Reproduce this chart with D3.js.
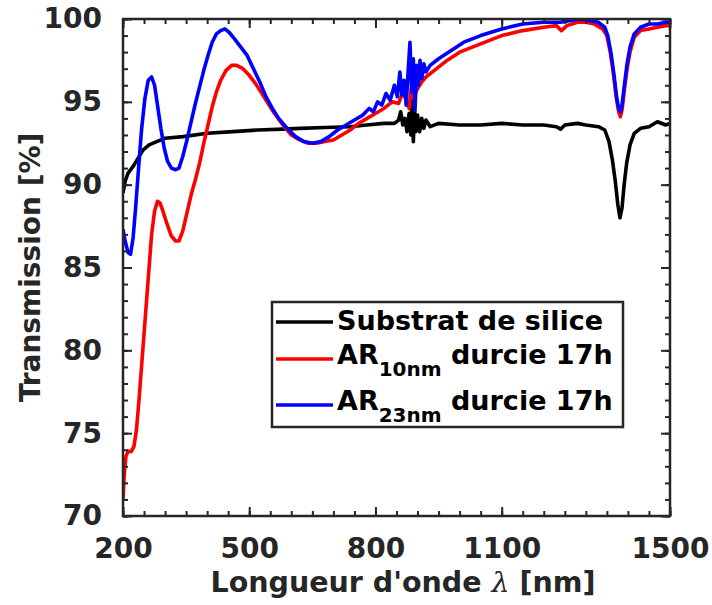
<!DOCTYPE html>
<html><head><meta charset="utf-8">
<script src="https://cdn.jsdelivr.net/npm/d3@7"></script>
<style>
html,body{margin:0;padding:0;background:#fff;}
svg text{font-family:"DejaVu Sans",sans-serif;font-weight:bold;}
</style></head>
<body><svg id="c" width="712" height="605"></svg>
<script>
// ---- data ----
const xTicks = [200, 500, 800, 1100, 1500];
const yTicks = [70, 75, 80, 85, 90, 95, 100];
const seriesNames = ["Substrat de silice", "AR10nm durcie 17h", "AR23nm durcie 17h"];
const seriesColors = ["#000000", "#ff0000", "#0000ff"];

const substratX = [200,205,212,224,236,248,262,280,300,343,400,461,520,580,621,680,740,779,820,845,855,860,865,870,875,880,884,887,890,893,896,900,905,910,915,920,930,950,1000,1050,1100,1150,1200,1230,1240,1250,1280,1300,1330,1345,1355,1363,1370,1376,1381,1386,1391,1397,1405,1415,1430,1450,1470,1490,1500];
const substratY = [89.5,90.2,90.7,91.1,91.6,92.1,92.4,92.6,92.8,92.9,93.1,93.2,93.3,93.35,93.4,93.45,93.5,93.6,93.7,93.7,93.9,94.4,93.6,94.0,93.2,94.3,93.0,95.4,92.6,94.5,93.2,94.2,93.2,94.0,93.4,93.9,93.5,93.7,93.6,93.6,93.7,93.6,93.6,93.5,93.35,93.6,93.7,93.6,93.5,93.3,92.6,91.5,90.2,88.8,88.0,88.6,90.0,91.3,92.4,93.1,93.4,93.5,93.8,93.6,93.7];

const ar10X = [200,203,207,212,220,226,232,238,244,250,256,262,268,275,282,288,295,305,315,325,333,342,352,362,372,382,392,402,412,422,432,445,458,470,485,500,515,530,545,560,580,600,620,640,660,680,700,720,740,760,780,800,820,840,855,865,875,880,885,890,900,910,920,940,970,1000,1050,1100,1150,1200,1230,1242,1255,1280,1300,1320,1340,1350,1358,1365,1372,1378,1382,1386,1392,1398,1405,1415,1430,1450,1470,1490,1500];
const ar10Y = [71.0,72.5,73.6,73.9,73.9,74.2,75.2,77.0,79.0,81.0,83.0,85.0,87.0,88.4,89.0,88.9,88.4,87.6,86.9,86.6,86.6,87.2,88.3,89.4,90.3,91.3,92.5,93.6,94.7,95.6,96.3,96.9,97.2,97.2,97.0,96.6,96.1,95.5,94.9,94.3,93.6,93.0,92.7,92.5,92.5,92.6,92.7,93.0,93.3,93.7,94.0,94.3,94.6,95.0,94.9,95.6,95.0,94.6,95.8,95.2,95.8,96.2,96.5,96.9,97.5,98.0,98.5,99.0,99.3,99.5,99.6,99.3,99.6,99.8,99.8,99.7,99.4,99.0,98.0,96.8,95.3,94.4,94.1,94.5,95.8,97.0,98.0,98.9,99.3,99.4,99.5,99.6,99.6];

const ar23X = [200,205,212,218,224,230,237,244,252,260,268,275,282,290,298,306,315,325,333,342,352,362,372,382,392,402,412,422,432,442,452,465,480,495,510,525,540,555,570,590,610,630,650,670,690,710,730,750,770,785,795,805,815,825,835,845,852,858,863,868,873,878,882,886,890,894,898,902,906,910,915,920,930,950,980,1010,1050,1100,1150,1200,1240,1260,1290,1310,1330,1345,1352,1360,1367,1373,1378,1382,1386,1392,1398,1405,1415,1430,1450,1470,1490,1500];
const ar23Y = [87.3,86.6,85.9,85.8,86.8,88.6,91.0,93.3,95.2,96.3,96.5,96.0,94.8,93.4,92.2,91.4,91.0,90.9,91.0,91.7,92.7,93.8,94.9,95.9,96.9,97.8,98.6,99.1,99.3,99.4,99.2,98.8,98.3,97.8,97.0,96.2,95.3,94.6,94.0,93.4,92.9,92.6,92.5,92.6,92.9,93.3,93.6,93.9,94.2,94.6,94.4,95.0,94.8,95.5,95.1,96.0,95.3,96.8,95.4,96.3,94.8,97.0,98.6,95.6,97.6,94.5,97.2,96.0,97.5,96.4,97.3,96.8,97.2,97.6,98.1,98.6,99.0,99.4,99.7,99.8,99.8,99.9,100.0,99.9,99.8,99.5,99.0,97.9,96.6,95.3,94.6,94.4,94.8,96.1,97.3,98.3,99.1,99.5,99.7,99.7,99.8,99.8];

// ---- layout ----
const L = 123, R = 670, T = 19, B = 516;
const axisColor = "#262626";
const svg = d3.select("#c");
const x = d3.scaleLinear().domain([200, 1500]).range([L, R]);
const y = d3.scaleLinear().domain([70, 100]).range([B, T]);

svg.append("defs").append("clipPath").attr("id","clip")
  .append("rect").attr("x",L).attr("y",T).attr("width",R-L).attr("height",B-T);

// lines
const line = d3.line().x(d => x(d[0])).y(d => y(d[1]));
const series = [
  d3.zip(substratX, substratY),
  d3.zip(ar10X, ar10Y),
  d3.zip(ar23X, ar23Y)
];
const g = svg.append("g").attr("clip-path","url(#clip)");
series.forEach((s,i) => {
  g.append("path").datum(s).attr("d", line)
    .attr("fill","none").attr("stroke", seriesColors[i])
    .attr("stroke-width", 3.6).attr("stroke-linejoin","round");
});

// axes
const minorX = d3.range(200, 1501, 50);
const minorY = d3.range(70, 101, 1);
function styleAxis(sel){
  sel.select(".domain").remove();
  sel.selectAll("line").attr("stroke", axisColor).attr("stroke-width", 2);
  sel.selectAll("text").attr("fill", axisColor).style("font-size","28px");
}
// minor ticks
svg.append("g").attr("transform",`translate(0,${B})`)
  .call(d3.axisBottom(x).tickValues(minorX).tickSize(-5).tickFormat("")).call(styleAxis);
svg.append("g").attr("transform",`translate(0,${T})`)
  .call(d3.axisTop(x).tickValues(minorX).tickSize(-5).tickFormat("")).call(styleAxis);
svg.append("g").attr("transform",`translate(${L},0)`)
  .call(d3.axisLeft(y).tickValues(minorY).tickSize(-5).tickFormat("")).call(styleAxis);
svg.append("g").attr("transform",`translate(${R},0)`)
  .call(d3.axisRight(y).tickValues(minorY).tickSize(-5).tickFormat("")).call(styleAxis);
// major ticks
svg.append("g").attr("transform",`translate(0,${B})`)
  .call(d3.axisBottom(x).tickValues(xTicks).tickSize(-9).tickPadding(22).tickFormat(d3.format("d"))).call(styleAxis);
svg.append("g").attr("transform",`translate(0,${T})`)
  .call(d3.axisTop(x).tickValues(xTicks).tickSize(-9).tickFormat("")).call(styleAxis);
svg.append("g").attr("transform",`translate(${L},0)`)
  .call(d3.axisLeft(y).tickValues(yTicks).tickSize(-9).tickPadding(21).tickFormat(d3.format("d"))).call(styleAxis);
svg.append("g").attr("transform",`translate(${R},0)`)
  .call(d3.axisRight(y).tickValues(yTicks).tickSize(-9).tickFormat("")).call(styleAxis);

// frame
svg.append("rect").attr("x",L).attr("y",T).attr("width",R-L).attr("height",B-T)
  .attr("fill","none").attr("stroke",axisColor).attr("stroke-width",2.5);

// axis titles
const xt = svg.append("text").attr("x", 403).attr("y", 592).attr("text-anchor","middle")
  .attr("fill", axisColor).style("font-size","28.5px");
xt.append("tspan").text("Longueur d'onde ");
xt.append("tspan").text("λ").style("font-family","'DejaVu Serif',serif").style("font-style","italic").style("font-weight","normal");
xt.append("tspan").text(" [nm]");
svg.append("text").attr("transform",`translate(40,${(T+B)/2}) rotate(-90)`)
  .attr("text-anchor","middle").attr("fill",axisColor).style("font-size","28px")
  .text("Transmission [%]");

// legend
const lg = svg.append("g");
lg.append("rect").attr("x",272).attr("y",302).attr("width",351).attr("height",125)
  .attr("fill","#fff").attr("stroke",axisColor).attr("stroke-width",2.5);
const rowsY = [322, 359, 405];
const baseY = [330, 364, 410];
const labelMain = ["Substrat de silice", "AR", "AR"];
const labelSub = [null, "10nm", "23nm"];
const labelTail = [null, " durcie 17h", " durcie 17h"];
seriesNames.forEach((n,i) => {
  lg.append("line").attr("x1",276).attr("x2",333).attr("y1",rowsY[i]).attr("y2",rowsY[i])
    .attr("stroke",seriesColors[i]).attr("stroke-width",3.6);
  const t = lg.append("text").attr("x",337).attr("y",baseY[i]).attr("fill","#000").style("font-size","27px");
  t.append("tspan").text(labelMain[i]);
  if (labelSub[i]) {
    t.append("tspan").attr("dy",12).style("font-size","20px").text(labelSub[i]);
    t.append("tspan").attr("dy",-12).text(labelTail[i]);
  }
});
</script></body></html>
